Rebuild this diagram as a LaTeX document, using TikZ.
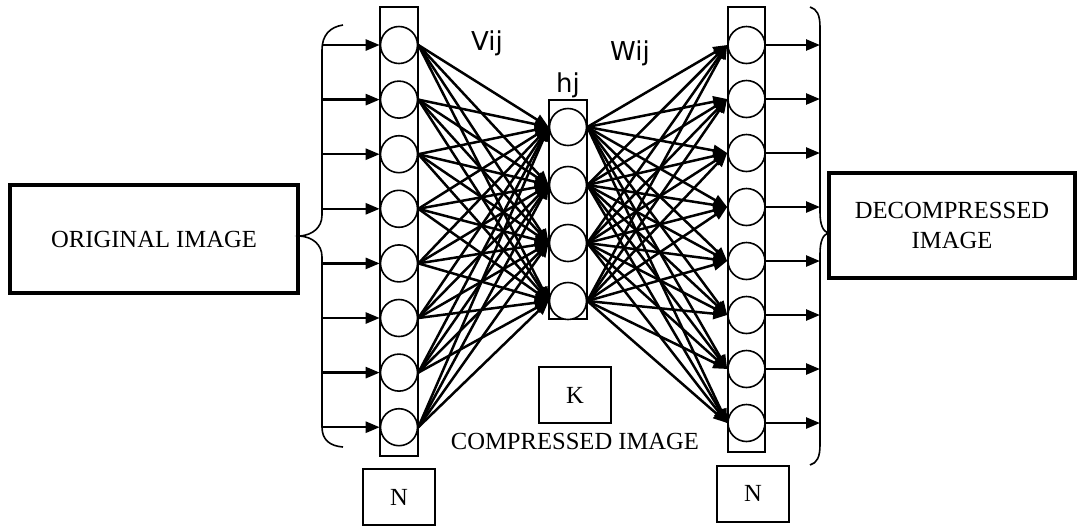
\documentclass[tikz,border=0pt]{standalone}
\usepackage{fontspec}
\setmainfont{Liberation Serif}
\newfontfamily\lblfont{DejaVu Sans}
\usetikzlibrary{arrows.meta, positioning}

\begin{document}
\begin{tikzpicture}[x=0.5pt, y=-0.5pt,
    unit/.style={circle, draw, line width=0.8pt, fill=white,
      minimum size=18.5pt, inner sep=0pt},
    colbox/.style={rectangle, draw, line width=0.8pt, minimum width=19pt, inner sep=0pt},
    arr/.style={-{Triangle[length=7pt, width=5.5pt]}, line width=1.25pt},
    imgbox/.style={rectangle, draw, line width=1.8pt, align=center,
      font=\fontsize{12.3}{15}\selectfont},
    tagbox/.style={rectangle, draw, line width=1pt, minimum width=36pt,
      minimum height=28pt, font=\fontsize{12.3}{15}\selectfont},
    lbl/.style={font=\lblfont\fontsize{13}{15}\selectfont}]
    \useasboundingbox (0,0) rectangle (1077,527);
    % layer columns
    \node[colbox, minimum height=224.5pt] (lcol) at (399,231.5) {};
    \node[colbox, minimum height=109.5pt] (hcol) at (568,209.5) {};
    \node[colbox, minimum width=18.5pt, minimum height=222.5pt] (rcol) at (746.5,229.5) {};
    % neurons
    \foreach \i in {1,...,8} {
      \node[unit] (l\i) at (399,{45+54.6*(\i-1)}) {};
      \node[unit] (r\i) at (746.5,{45+54*(\i-1)}) {};
    }
    \foreach \j in {1,...,4}
      \node[unit] (h\j) at (568,{127+58*(\j-1)}) {};
    % weights
    \foreach \i in {1,...,8}
      \foreach \j in {1,...,4} {
        \draw[arr] (l\i.east) -- (h\j.west);
        \draw[arr] (h\j.east) -- (r\i.west);
      }
    % inputs and outputs
    \foreach \i in {1,...,8} {
      \coordinate (in\i) at (323,{45+54.6*(\i-1)});
      \coordinate (out\i) at (820,{45+54*(\i-1)});
      \draw[arr] (in\i) -- (l\i.west);
      \draw[arr] (r\i.east) -- (out\i);
    }
    % braces
    \draw[line width=0.8pt] (343,25) .. controls (330,27) and (322,35) .. (322,50)
      -- (322,215) .. controls (322,228) and (312,235) .. (300,236)
      .. controls (312,237) and (322,244) .. (322,257)
      -- (322,427) .. controls (322,440) and (330,446) .. (343,447);
    \draw[line width=0.8pt] (810,7) .. controls (817,9) and (820,15) .. (820,27)
      -- (820,212) .. controls (820,225) and (823,231) .. (828,233)
      .. controls (823,235) and (820,241) .. (820,254)
      -- (820,445) .. controls (820,457) and (817,463) .. (810,465);
    % boxes and labels
    \node[imgbox, minimum width=144pt, minimum height=54pt] (orig) at (154,239) {ORIGINAL IMAGE};
    \node[imgbox, minimum width=123pt, minimum height=52.5pt] (decomp) at (952,225.5) {DECOMPRESSED\\IMAGE};
    \node[tagbox] (kbox) at (575,395) {K};
    \node[font=\fontsize{12.3}{15}\selectfont] (comp) at (575,441) {COMPRESSED IMAGE};
    \node[tagbox] (nleft) at (399,497) {N};
    \node[tagbox] (nright) at (753,493.5) {N};
    \node[lbl] (vij) at (487,43) {Vij};
    \node[lbl] (wij) at (630,53) {Wij};
    \node[lbl] (hj) at (568,85) {hj};
  \end{tikzpicture}
\end{document}
